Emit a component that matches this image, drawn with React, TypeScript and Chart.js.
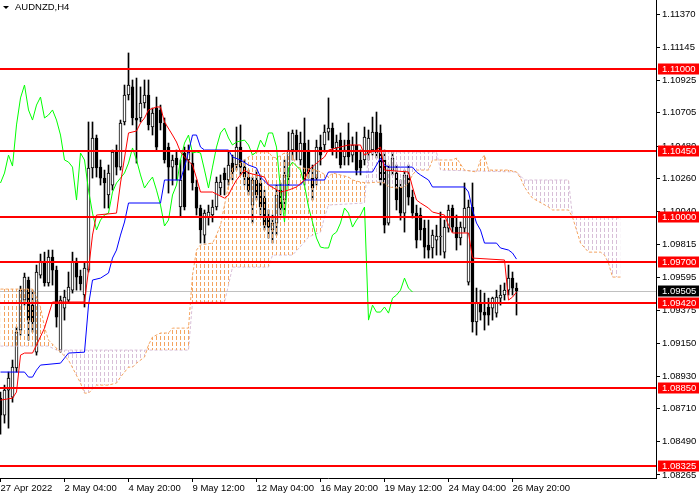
import React, { useEffect, useRef } from "react";
import { Chart, registerables } from "chart.js";

Chart.register(...registerables);

const symbol = "AUDNZD,H4";

// H4 candles, bar 0 = left edge of the window
const opens = [
  1.08782, 1.08668, 1.08836, 1.08789, 1.08985, 1.09241, 1.09443, 1.09578, 1.09409, 1.09092,
  1.09611, 1.09699, 1.09558, 1.09733, 1.09645, 1.09106, 1.09389, 1.09443, 1.09510, 1.09699,
  1.09605, 1.09477, 1.09645, 1.10333, 1.10535, 1.10339, 1.10265, 1.10151, 1.10218, 1.10441,
  1.10339, 1.10643, 1.10825, 1.10879, 1.10670, 1.10670, 1.10771, 1.10825, 1.10609, 1.10737,
  1.10724, 1.10636, 1.10474, 1.10339, 1.10400, 1.10070, 1.10434, 1.10387, 1.10366, 1.10205,
  1.10063, 1.09881, 1.10002, 1.10016, 1.10070, 1.10198, 1.10299, 1.10252, 1.10366, 1.10353,
  1.10474, 1.10339, 1.10272, 1.10083, 1.10252, 1.10232, 1.10130, 1.10002, 1.09915, 1.09962,
  1.10184, 1.10117, 1.10272, 1.10454, 1.10555, 1.10387, 1.10501, 1.10454, 1.10265, 1.10265,
  1.10474, 1.10488, 1.10575, 1.10602, 1.10468, 1.10521, 1.10407, 1.10521, 1.10420, 1.10488,
  1.10387, 1.10387, 1.10434, 1.10454, 1.10575, 1.10569, 1.10387, 1.09962, 1.10319, 1.10299,
  1.10205, 1.10029, 1.10286, 1.10137, 1.10029, 1.10016, 1.09928, 1.09814, 1.09794, 1.09847,
  1.09868, 1.09766, 1.09928, 1.10063, 1.09935, 1.09861, 1.09928, 1.09564, 1.10070, 1.09295,
  1.09423, 1.09362, 1.09396, 1.09389, 1.09355, 1.09456, 1.09477, 1.09510, 1.09591, 1.09524,
];
const highs = [
  1.08823, 1.08870, 1.08958, 1.09039, 1.09261, 1.09537, 1.09625, 1.09598, 1.09510, 1.09679,
  1.09753, 1.09766, 1.09780, 1.09780, 1.09672, 1.09470, 1.09510, 1.09632, 1.09766, 1.09726,
  1.09645, 1.09699, 1.10643, 1.10643, 1.10555, 1.10387, 1.10319, 1.10353, 1.10454, 1.10488,
  1.10656, 1.10892, 1.11108, 1.10926, 1.10939, 1.10879, 1.10926, 1.10926, 1.10737, 1.10811,
  1.10757, 1.10670, 1.10501, 1.10420, 1.10454, 1.10387, 1.10474, 1.10488, 1.10441, 1.10252,
  1.10083, 1.10050, 1.10083, 1.10117, 1.10272, 1.10286, 1.10333, 1.10441, 1.10420, 1.10609,
  1.10623, 1.10387, 1.10319, 1.10272, 1.10319, 1.10286, 1.10184, 1.10050, 1.10016, 1.10218,
  1.10232, 1.10387, 1.10575, 1.10589, 1.10589, 1.10575, 1.10670, 1.10521, 1.10353, 1.10521,
  1.10555, 1.10623, 1.10805, 1.10636, 1.10555, 1.10569, 1.10521, 1.10636, 1.10542, 1.10575,
  1.10454, 1.10609, 1.10589, 1.10676, 1.10710, 1.10623, 1.10454, 1.10353, 1.10441, 1.10353,
  1.10252, 1.10319, 1.10353, 1.10184, 1.10083, 1.10063, 1.09982, 1.09982, 1.09915, 1.09948,
  1.10036, 1.09982, 1.10083, 1.10083, 1.10016, 1.09969, 1.10232, 1.10117, 1.10232, 1.09524,
  1.09510, 1.09490, 1.09456, 1.09463, 1.09510, 1.09544, 1.09558, 1.09679, 1.09632, 1.09558,
];
const lows = [
  1.08540, 1.08614, 1.08580, 1.08755, 1.08958, 1.09207, 1.09409, 1.09173, 1.09227, 1.09072,
  1.09591, 1.09537, 1.09537, 1.09544, 1.09261, 1.09092, 1.09308, 1.09423, 1.09490, 1.09510,
  1.09510, 1.09396, 1.09632, 1.10265, 1.10272, 1.10218, 1.10063, 1.10063, 1.10184, 1.10286,
  1.10319, 1.10623, 1.10791, 1.10623, 1.10366, 1.10643, 1.10737, 1.10589, 1.10555, 1.10454,
  1.10589, 1.10366, 1.10164, 1.10218, 1.10252, 1.10002, 1.10050, 1.10319, 1.10184, 1.10016,
  1.09827, 1.09827, 1.09948, 1.09969, 1.10050, 1.10151, 1.10151, 1.10218, 1.10252, 1.10319,
  1.10286, 1.10218, 1.10151, 1.09962, 1.10117, 1.10016, 1.09915, 1.09861, 1.09827, 1.09881,
  1.10016, 1.10050, 1.10218, 1.10387, 1.10387, 1.10353, 1.10218, 1.10265, 1.10117, 1.10218,
  1.10353, 1.10441, 1.10521, 1.10420, 1.10400, 1.10333, 1.10353, 1.10353, 1.10373, 1.10286,
  1.10286, 1.10353, 1.10387, 1.10420, 1.10400, 1.10218, 1.09895, 1.09948, 1.10286, 1.10050,
  1.09982, 1.09901, 1.10083, 1.09996, 1.09794, 1.09847, 1.09726, 1.09726, 1.09726, 1.09746,
  1.09746, 1.09726, 1.09901, 1.09901, 1.09780, 1.09814, 1.09901, 1.09544, 1.09227, 1.09207,
  1.09308, 1.09241, 1.09274, 1.09308, 1.09328, 1.09409, 1.09443, 1.09477, 1.09477, 1.09342,
];
const closes = [
  1.08668, 1.08836, 1.08917, 1.08991, 1.09227, 1.09510, 1.09598, 1.09308, 1.09295, 1.09632,
  1.09706, 1.09558, 1.09733, 1.09645, 1.09328, 1.09443, 1.09463, 1.09531, 1.09699, 1.09598,
  1.09551, 1.09659, 1.10333, 1.10535, 1.10333, 1.10265, 1.10232, 1.10299, 1.10441, 1.10339,
  1.10636, 1.10825, 1.10892, 1.10670, 1.10656, 1.10771, 1.10825, 1.10623, 1.10703, 1.10474,
  1.10636, 1.10387, 1.10339, 1.10387, 1.10353, 1.10252, 1.10070, 1.10441, 1.10232, 1.10063,
  1.09915, 1.10029, 1.10036, 1.10070, 1.10238, 1.10238, 1.10252, 1.10353, 1.10306, 1.10474,
  1.10339, 1.10272, 1.10184, 1.10252, 1.10151, 1.10070, 1.09948, 1.09935, 1.09962, 1.10151,
  1.10063, 1.10286, 1.10454, 1.10569, 1.10441, 1.10501, 1.10252, 1.10306, 1.10198, 1.10474,
  1.10420, 1.10575, 1.10602, 1.10468, 1.10508, 1.10353, 1.10454, 1.10407, 1.10488, 1.10319,
  1.10333, 1.10542, 1.10535, 1.10575, 1.10434, 1.10252, 1.09948, 1.10319, 1.10400, 1.10117,
  1.10029, 1.10286, 1.10137, 1.10029, 1.09847, 1.09915, 1.09800, 1.09780, 1.09881, 1.09874,
  1.09874, 1.09935, 1.10050, 1.09935, 1.09861, 1.09935, 1.10063, 1.10070, 1.09295, 1.09423,
  1.09362, 1.09342, 1.09342, 1.09456, 1.09463, 1.09477, 1.09510, 1.09591, 1.09524, 1.09505,
];

// Ichimoku lines, [bar, price] vertices
const tenkan = [
  [0, 1.08769], [3, 1.08782], [4, 1.08823], [5, 1.09072], [6, 1.09086], [8, 1.09086], [9, 1.0914],
  [11, 1.09254], [12, 1.09342], [13, 1.0943], [21, 1.0943], [22, 1.09645], [23, 1.09881], [24, 1.10016],
  [29, 1.10029], [30, 1.10232], [32, 1.10569], [34, 1.10582], [35, 1.10636], [36, 1.1067], [37, 1.10724],
  [39, 1.10744], [40, 1.10744], [41, 1.10643], [43, 1.10555], [44, 1.10508], [45, 1.10441], [46, 1.10407],
  [48, 1.10353], [49, 1.10265], [50, 1.10171], [53, 1.10171], [56, 1.1013], [57, 1.10151], [58, 1.10205],
  [59, 1.10252], [60, 1.10286], [61, 1.10319], [62, 1.10299], [66, 1.10272], [67, 1.10218], [70, 1.10171],
  [72, 1.10184], [74, 1.10205], [76, 1.10252], [77, 1.10319], [80, 1.10387], [81, 1.10407], [82, 1.10454],
  [87, 1.10488], [90, 1.10488], [91, 1.1042], [92, 1.10434], [94, 1.10454], [95, 1.10474], [96, 1.10319],
  [102, 1.10306], [103, 1.10205], [104, 1.10117], [105, 1.10097], [107, 1.10063], [108, 1.10036],
  [111, 1.10016], [112, 1.09948], [113, 1.09895], [117, 1.09895], [118, 1.09726], [126, 1.09713],
  [127, 1.09443], [128, 1.09463], [129, 1.09497],
];
const kijun = [
  [0, 1.08958], [6, 1.08958], [7, 1.08924], [8, 1.08924], [9, 1.08971], [10, 1.09005], [15, 1.09018],
  [16, 1.09052], [17, 1.09086], [21, 1.09092], [22, 1.09409], [23, 1.09578], [25, 1.09591], [27, 1.09625],
  [28, 1.09726], [29, 1.0978], [30, 1.09881], [31, 1.09969], [32, 1.10097], [40, 1.10097], [41, 1.10252],
  [45, 1.10252], [46, 1.10339], [47, 1.10441], [48, 1.10555], [49, 1.10555], [50, 1.10474], [51, 1.10454],
  [57, 1.10454], [58, 1.10407], [60, 1.10387], [62, 1.10353], [64, 1.10333], [65, 1.10272], [67, 1.10218],
  [75, 1.10218], [76, 1.10252], [81, 1.10252], [82, 1.10306], [93, 1.10306], [94, 1.10353], [95, 1.104],
  [96, 1.10353], [97, 1.10339], [103, 1.10339], [104, 1.10306], [105, 1.10286], [107, 1.10252],
  [108, 1.10205], [116, 1.10205], [117, 1.10171], [118, 1.1005], [119, 1.09962], [120, 1.09915],
  [121, 1.09827], [124, 1.09827], [125, 1.09794], [127, 1.0978], [128, 1.0976], [129, 1.09719],
];
// lagging span, one value per bar from bar 0
const chikou = [
  1.10232, 1.10299, 1.1042, 1.10346, 1.10623, 1.10805, 1.10892, 1.10724, 1.10656, 1.10757,
  1.10811, 1.1067, 1.1069, 1.10724, 1.10656, 1.10555, 1.10387, 1.10373, 1.10339, 1.10117,
  1.10434, 1.10387, 1.10184, 1.10029, 1.09915, 1.09982, 1.10016, 1.10029, 1.10171, 1.10232,
  1.10265, 1.10299, 1.10366, 1.10468, 1.10387, 1.10286, 1.10198, 1.10238, 1.10272, 1.10184,
  1.10083, 1.09942, 1.09982, 1.10151, 1.10218, 1.10387, 1.10501, 1.10555, 1.10434, 1.10441,
  1.10434, 1.10319, 1.10198, 1.10339, 1.10474, 1.10569, 1.10602, 1.10535, 1.10488, 1.10508,
  1.10515, 1.10521, 1.10488, 1.1042, 1.10441, 1.10521, 1.10474, 1.10569, 1.10569, 1.10474,
  1.10184, 1.09969, 1.10333, 1.10373, 1.10346, 1.10319, 1.10218, 1.1007, 1.09969, 1.09861,
  1.098, 1.09794, 1.09794, 1.09881, 1.09901, 1.09962, 1.10063, 1.10029, 1.09935, 1.09982,
  1.10016, 1.1007, 1.09308, 1.09409, 1.09362, 1.09362, 1.09396, 1.09355, 1.09456, 1.09477,
  1.0951, 1.09591, 1.09524, 1.09497,
];
const senkouA = [
  [0, 1.09517], [8, 1.09517], [9, 1.09463], [10, 1.09396], [11, 1.09261], [12, 1.09173], [15, 1.09092],
  [17, 1.09039], [20, 1.08884], [21, 1.08816], [22, 1.08816], [24, 1.0887], [27, 1.0887], [29, 1.08884],
  [30, 1.08924], [32, 1.08991], [33, 1.08991], [34, 1.09018], [36, 1.09059], [37, 1.0914], [38, 1.09194],
  [40, 1.09221], [42, 1.09221], [43, 1.09254], [47, 1.09254], [48, 1.09611], [49, 1.0978], [50, 1.09814],
  [53, 1.09827], [54, 1.09881], [55, 1.09948], [56, 1.10083], [57, 1.10218], [58, 1.10333], [60, 1.10366],
  [62, 1.10407], [64, 1.10441], [67, 1.10441], [68, 1.10407], [69, 1.104], [71, 1.10434], [73, 1.1042],
  [74, 1.10339], [79, 1.10319], [80, 1.10306], [82, 1.10272], [83, 1.10299], [85, 1.10286], [87, 1.10272],
  [88, 1.10252], [90, 1.10238], [92, 1.10232], [94, 1.10238], [96, 1.10232], [97, 1.10205], [99, 1.10198],
  [101, 1.10205], [102, 1.10232], [103, 1.10286], [104, 1.10319], [107, 1.10319], [108, 1.10387],
  [113, 1.10387], [114, 1.104], [116, 1.10319], [119, 1.10306], [120, 1.10387], [121, 1.1042],
  [122, 1.10319], [127, 1.10319], [129, 1.10306], [130, 1.10265], [131, 1.10205], [132, 1.10164],
  [133, 1.1013], [137, 1.1007], [138, 1.1005], [142, 1.1005], [143, 1.10002], [144, 1.09915],
  [145, 1.09827], [147, 1.09766], [150, 1.09766], [151, 1.09746], [152, 1.09692], [153, 1.09598],
  [155, 1.09598],
];
const senkouB = [
  [0, 1.09133], [12, 1.09133], [14, 1.09106], [47, 1.09106], [48, 1.0943], [56, 1.0943], [57, 1.09544],
  [58, 1.09665], [67, 1.09665], [68, 1.09746], [73, 1.09746], [76, 1.09834], [77, 1.09868], [80, 1.09901],
  [81, 1.10002], [82, 1.10083], [91, 1.10097], [92, 1.10441], [109, 1.10441], [110, 1.10319],
  [129, 1.10306], [131, 1.10252], [142, 1.10252], [143, 1.10002], [155, 1.09996],
];

const levels = [1.11, 1.1045, 1.1, 1.097, 1.0942, 1.0885, 1.08325];
const lastPrice = 1.09505;

const yTicks = [
  1.1137, 1.11145, 1.10925, 1.10705, 1.1048, 1.1026, 1.1004, 1.09815,
  1.09595, 1.09375, 1.0915, 1.0893, 1.0871, 1.0849, 1.08265,
];
const xTickBars = [0, 16, 32, 48, 64, 80, 96, 112, 128];
const xTickLabels = [
  "27 Apr 2022", "2 May 04:00", "4 May 20:00", "9 May 12:00", "12 May 04:00",
  "16 May 20:00", "19 May 12:00", "24 May 04:00", "26 May 20:00",
];

const FONT = '"Liberation Sans", Arial, sans-serif';
const FONT_SIZE = 9.5;

// dotted vertical hatch like the MT4 cloud histogram, one column per bar
function hatch(ctx: CanvasRenderingContext2D, color: string) {
  const c = document.createElement("canvas");
  c.width = 4;
  c.height = 6;
  const g = c.getContext("2d")!;
  g.fillStyle = color;
  g.fillRect(0, 0, 1, 4);
  return ctx.createPattern(c, "repeat")!;
}

const pts = (arr: number[][]) => arr.map(([x, y]) => ({ x, y }));

export default function App() {
  const ref = useRef<HTMLCanvasElement | null>(null);

  useEffect(() => {
    document.body.style.margin = "0";
    const ctx = ref.current?.getContext("2d");
    if (!ctx) return;

    const bars = opens.map((_, i) => i);
    const bull = opens.map((o, i) => closes[i] >= o);

    const overlay = {
      id: "mt4Overlay",
      beforeDatasetsDraw(chart: any) {
        const { ctx: c, chartArea: a, scales } = chart;
        const py = Math.round(scales.y.getPixelForValue(lastPrice)) + 0.5;
        c.save();
        c.strokeStyle = "#c0c0c0";
        c.lineWidth = 1;
        c.beginPath();
        c.moveTo(a.left, py);
        c.lineTo(a.right, py);
        c.stroke();
        c.restore();
      },
      afterDatasetsDraw(chart: any) {
        const { ctx: c, chartArea: a, scales } = chart;
        c.save();
        c.strokeStyle = "#ff0000";
        c.lineWidth = 2;
        levels.forEach((v) => {
          const py = Math.round(scales.y.getPixelForValue(v));
          c.beginPath();
          c.moveTo(a.left, py);
          c.lineTo(a.right, py);
          c.stroke();
        });
        c.restore();
      },
      afterDraw(chart: any) {
        const { ctx: c, chartArea: a, scales } = chart;
        c.save();
        c.font = `${FONT_SIZE}px ${FONT}`;
        c.textBaseline = "middle";
        const tag = (v: number, bg: string) => {
          const py = Math.round(scales.y.getPixelForValue(v));
          c.fillStyle = bg;
          c.fillRect(a.right + 2, py - 5.5, 41, 11);
          c.fillStyle = "#ffffff";
          c.fillText(v.toFixed(5), a.right + 6, py + 0.5);
        };
        levels.forEach((v) => tag(v, "#ff0000"));
        tag(lastPrice, "#000000");

        // symbol caption
        c.fillStyle = "#000000";
        c.beginPath();
        c.moveTo(3, 6);
        c.lineTo(9, 6);
        c.lineTo(6, 9);
        c.closePath();
        c.fill();
        c.fillText(symbol, 15, 7.5);
        c.restore();
      },
    };

    const chart = new Chart(ctx, {
      type: "bar",
      data: {
        datasets: [
          { type: "line", label: "Tenkan-sen", data: pts(tenkan), borderColor: "#ff0000", order: 1 },
          { type: "line", label: "Kijun-sen", data: pts(kijun), borderColor: "#0000ff", order: 2 },
          {
            type: "line",
            label: "Chikou Span",
            data: chikou.map((y, i) => ({ x: i, y })),
            borderColor: "#00ff00",
            order: 3,
          },
          {
            type: "line",
            label: "Senkou Span A",
            data: pts(senkouA),
            borderColor: "#f4a460",
            borderDash: [3, 2],
            fill: { target: 4, above: hatch(ctx, "#f4a460"), below: hatch(ctx, "#d8bfd8") },
            order: 4,
          },
          {
            type: "line",
            label: "Senkou Span B",
            data: pts(senkouB),
            borderColor: "#d8bfd8",
            borderDash: [3, 2],
            order: 5,
          },
          {
            label: "body",
            data: bars.map((i) => ({ x: i, y: [opens[i], closes[i]] })),
            backgroundColor: bull.map((b) => (b ? "#ffffff" : "#000000")),
            borderColor: "#000000",
            borderWidth: 1,
            borderSkipped: false,
            barThickness: 3,
            minBarLength: 1,
            grouped: false,
            order: 6,
          },
          {
            label: "wick",
            data: bars.map((i) => ({ x: i, y: [lows[i], highs[i]] })),
            backgroundColor: "#000000",
            borderWidth: 0,
            barThickness: 1,
            grouped: false,
            order: 7,
          },
        ] as any,
      },
      options: {
        responsive: false,
        animation: false,
        events: [],
        layout: { padding: 0 },
        font: { family: FONT, size: FONT_SIZE },
        color: "#000",
        elements: {
          point: { radius: 0 },
          line: { borderWidth: 1, tension: 0 },
        },
        plugins: { legend: { display: false }, tooltip: { enabled: false } },
        scales: {
          x: {
            type: "linear",
            min: -0.125,
            max: 163.875,
            offset: false,
            grid: { drawOnChartArea: false, drawTicks: true, tickLength: 4, color: "#000", offset: false },
            border: { display: true, color: "#000" },
            afterBuildTicks: (s: any) => {
              s.ticks = xTickBars.map((v) => ({ value: v }));
            },
            afterFit: (s: any) => {
              s.height = 22;
              s.paddingLeft = 0;
              s.paddingRight = 0;
            },
            ticks: {
              autoSkip: false,
              maxRotation: 0,
              align: "start",
              padding: 1,
              color: "#000",
              font: { family: FONT, size: FONT_SIZE },
              callback: (v: any) => xTickLabels[xTickBars.indexOf(Number(v))] ?? "",
            },
          },
          y: {
            type: "linear",
            position: "right",
            min: 1.082441,
            max: 1.114649,
            beginAtZero: false,
            grid: { drawOnChartArea: false, drawTicks: true, tickLength: 4, color: "#000" },
            border: { display: true, color: "#000" },
            afterBuildTicks: (s: any) => {
              s.ticks = yTicks.map((v) => ({ value: v }));
            },
            afterFit: (s: any) => {
              s.width = 44;
              s.paddingTop = 0;
              s.paddingBottom = 0;
            },
            ticks: {
              padding: 2,
              color: "#000",
              font: { family: FONT, size: FONT_SIZE },
              callback: (v: any) => Number(v).toFixed(5),
            },
          },
        },
      } as any,
      plugins: [overlay],
    });

    return () => chart.destroy();
  }, []);

  return (
    <div style={{ width: 700, height: 500 }}>
      <canvas ref={ref} width={700} height={500} style={{ display: "block" }} />
    </div>
  );
}
